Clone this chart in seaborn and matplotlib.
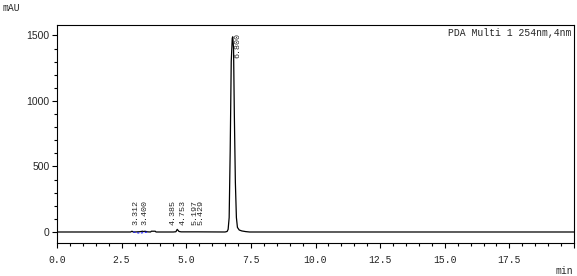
import numpy as np
import pandas as pd
import matplotlib
matplotlib.use("Agg")
import matplotlib.pyplot as plt
from matplotlib.ticker import MultipleLocator, FixedLocator
import seaborn as sns

# ---- data ----
trace_time = [0.0, 2.85, 2.90, 2.95, 3.00, 3.10, 3.20, 3.312, 3.36, 3.40, 3.50, 3.62,
              3.65, 3.70, 3.80, 3.83, 4.50, 4.60, 4.65, 4.72, 4.80, 5.20, 5.43, 6.50,
              6.58, 6.62, 6.66, 6.70, 6.74, 6.78, 6.80, 6.83, 6.86, 6.90, 6.94, 6.98,
              7.05, 7.15, 7.30, 7.45, 20.0]
trace_mau = [0, 0, 6, 0, 0, 1, 2, 6, 3, 6, 1, 0,
             6, 6, 6, 0, 0, 2, 20, 4, 1, 1, 1, 0,
             4, 20, 110, 620, 1300, 1480, 1490, 1400, 900, 380, 110, 35,
             15, 8, 3, 0, 0]

peak_times = [3.312, 3.400, 4.385, 4.753, 5.197, 5.429, 6.800]
peak_labels = ["3.312", "3.400", "4.385", "4.753", "5.197", "5.429", "6.800"]
peak_heights = [6, 6, 20, 3, 1, 1, 1490]

baseline_time = [2.95, 3.20, 3.50]
baseline_mau = [0, -9, 0]

xtick_values = [0.0, 2.5, 5.0, 7.5, 10.0, 12.5, 15.0, 17.5, 20.0]
xtick_labels = ["0.0", "2.5", "5.0", "7.5", "10.0", "12.5", "15.0", "17.5", ""]
ytick_values = [0, 500, 1000, 1500]
ytick_labels = ["0", "500", "1000", "1500"]

detector_text = "PDA Multi 1 254nm,4nm"
y_unit = "mAU"
x_unit = "min"

# ---- plotting ----
sns.set_theme(style="ticks")
plt.rcParams["font.family"] = ["DejaVu Sans"]
plt.rcParams["axes.linewidth"] = 0.8

df = pd.DataFrame({"time": trace_time, "mAU": trace_mau})
bl = pd.DataFrame({"time": baseline_time, "mAU": baseline_mau})

fig = plt.figure(figsize=(5.77, 2.76), dpi=100)
ax = fig.add_axes([57 / 577, 1 - 243 / 276, (574 - 57) / 577, (243 - 25) / 276])

sns.lineplot(data=df, x="time", y="mAU", ax=ax, color="black", linewidth=0.9,
             estimator=None, sort=False)
sns.lineplot(data=bl, x="time", y="mAU", ax=ax, color="#1a1aff", linewidth=0.8,
             linestyle=(0, (2, 1.5)), estimator=None, sort=False)

ax.set_xlim(0, 20)
ax.set_ylim(-84, 1580)
ax.set_xlabel("")
ax.set_ylabel("")

ax.xaxis.set_major_locator(FixedLocator(xtick_values))
ax.set_xticklabels(xtick_labels, family="Liberation Mono", fontsize=7)
ax.xaxis.set_minor_locator(MultipleLocator(0.5))
ax.yaxis.set_major_locator(FixedLocator(ytick_values))
ax.set_yticklabels(ytick_labels, family="Liberation Sans", fontsize=7.5)
ax.yaxis.set_minor_locator(MultipleLocator(100))
ax.tick_params(axis="both", which="major", length=3.5, width=0.8, pad=2, color="black")
ax.tick_params(axis="both", which="minor", length=2.2, width=0.8, color="black")
ax.tick_params(axis="x", which="major", pad=5)
for s in ax.spines.values():
    s.set_color("black")
    s.set_linewidth(0.8)

label_dx = [-4.5, 0.0, 2.0, 2.5, 2.5, 2.5]
for i, (t, lab, h) in enumerate(zip(peak_times, peak_labels, peak_heights)):
    if h > 500:
        ax.annotate(lab, xy=(t, h), xytext=(1.5, 3), textcoords="offset points",
                    rotation=90, ha="left", va="top", family="Liberation Mono",
                    fontsize=6)
    else:
        ax.annotate(lab, xy=(t, 0), xytext=(label_dx[i], 5), textcoords="offset points",
                    rotation=90, ha="center", va="bottom", family="Liberation Mono",
                    fontsize=6)

ax.text(0.995, 0.985, detector_text, transform=ax.transAxes, ha="right", va="top",
        family="Liberation Mono", fontsize=7)
fig.text(3 / 577, 1 - 8 / 276, y_unit, ha="left", va="center",
         family="Liberation Mono", fontsize=7)
fig.text(556 / 577, 1 - 271 / 276, x_unit, ha="left", va="center",
         family="Liberation Mono", fontsize=7)

fig.savefig("out.png", dpi=100, facecolor="white")
